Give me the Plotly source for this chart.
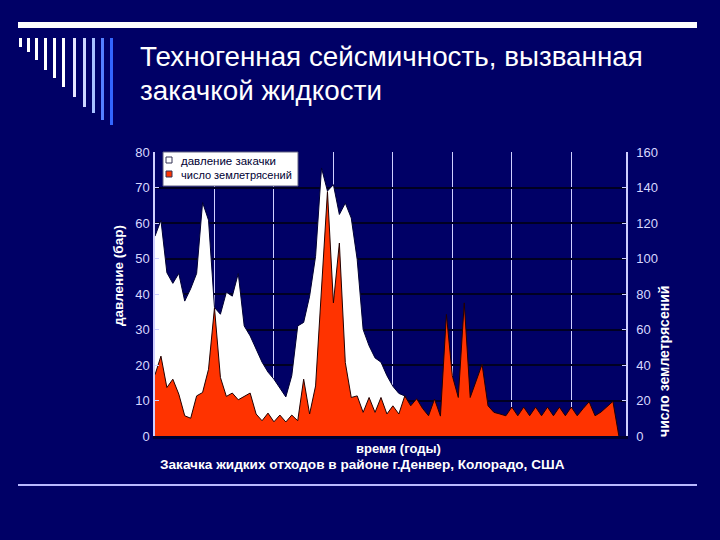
import plotly.graph_objects as go

# ---------------- data ----------------
months_pressure = list(range(0, 44))
pressure_bar = [56.3, 60.8, 46.0, 43.0, 45.8, 38.0, 41.5, 45.8, 65.8, 60.8,
                36.2, 34.3, 40.5, 39.4, 45.8, 31.0, 28.2, 24.5, 20.8, 18.0,
                16.0, 13.5, 11.0, 17.0, 31.0, 32.0, 39.4, 50.6, 75.5, 69.0,
                70.8, 62.4, 65.6, 61.4, 49.7, 30.0, 25.4, 22.0, 20.8, 17.0,
                14.0, 12.0, 11.3, 0.0]

months_quakes = list(range(0, 79))
quakes = [34.5, 45.0, 27.3, 32.0, 23.6, 11.4, 10.0, 22.6, 24.5, 37.6,
          72.2, 33.0, 22.3, 24.2, 20.4, 22.3, 24.2, 12.4, 8.6, 12.9,
          8.0, 11.8, 7.9, 11.8, 8.6, 32.0, 12.4, 28.2, 80.0, 137.7,
          75.0, 108.7, 41.4, 21.7, 22.6, 13.3, 21.7, 13.3, 21.7, 12.4,
          17.0, 12.4, 22.6, 17.0, 21.0, 15.5, 11.4, 20.8, 11.2, 68.5,
          33.9, 21.7, 75.0, 21.7, 31.0, 40.4, 17.0, 13.3, 12.4, 11.4,
          16.3, 11.4, 16.3, 11.4, 16.3, 11.4, 16.3, 11.4, 16.3, 11.4,
          16.3, 11.4, 15.5, 19.3, 11.4, 13.5, 16.5, 19.5, 0.0]

left_ticks = [0, 10, 20, 30, 40, 50, 60, 70, 80]
right_ticks = [0, 20, 40, 60, 80, 100, 120, 140, 160]
x_grid = [10, 20, 30, 40, 50, 60, 70]

name_pressure = "давление закачки"
name_quakes = "число землетрясений"
title_line1 = "Техногенная сейсмичность, вызванная"
title_line2 = "закачкой жидкости"
ytitle_left = "давление (бар)"
ytitle_right = "число землетрясений"
xtitle = "время (годы)"
caption = "Закачка жидких отходов в районе г.Денвер, Колорадо, США"

# ---------------- layout geometry ----------------
W, H = 720, 540
L, R, T, B = 155, 94, 152, 104
PW, PH = W - L - R, H - T - B
BG = "#000066"
LIGHT = "#cfcfff"
FONT = "Liberation Sans, Arial, sans-serif"


def px(x):
    return (x - L) / PW


def py(y):
    return (H - B - y) / PH


fig = go.Figure()
fig.add_trace(go.Scatter(
    x=months_pressure, y=pressure_bar, name=name_pressure,
    mode="lines", fill="tozeroy", fillcolor="#ffffff",
    line=dict(color="#000033", width=1), yaxis="y", showlegend=False,
    hoverinfo="skip"))
fig.add_trace(go.Scatter(
    x=months_quakes, y=quakes, name=name_quakes,
    mode="lines", fill="tozeroy", fillcolor="#ff3300",
    line=dict(color="#220000", width=1), yaxis="y2", showlegend=False,
    hoverinfo="skip"))

shapes = []
annotations = []

# top white line
shapes.append(dict(type="rect", xref="paper", yref="paper",
                   x0=px(18), x1=px(697), y0=py(22), y1=py(28),
                   fillcolor="#ffffff", line=dict(width=0)))
# bottom line
shapes.append(dict(type="line", xref="paper", yref="paper",
                   x0=px(18), x1=px(697), y0=py(485), y1=py(485),
                   line=dict(color="#b8b8ff", width=2)))
# decorative bars
bar_x = [19, 27, 35, 44, 53, 62, 73, 83, 92, 101, 110]
bar_bottom = [47, 52, 60, 70, 78, 87, 97, 107, 113, 120, 125]
bar_col = ["#ffffff", "#ffffff", "#ffffff", "#ffffff", "#ffffff", "#ffffff",
           "#e6e6ff", "#ccd6ff", "#a8c0ff", "#5580ff", "#3366ff"]
for bx, bb, bc in zip(bar_x, bar_bottom, bar_col):
    shapes.append(dict(type="rect", xref="paper", yref="paper",
                       x0=px(bx), x1=px(bx + 3), y0=py(38), y1=py(bb),
                       fillcolor=bc, line=dict(width=0)))

# manual legend
shapes.append(dict(type="rect", xref="paper", yref="paper",
                   x0=px(163), x1=px(298), y0=py(152), y1=py(186),
                   fillcolor="#ffffff", line=dict(color="#606080", width=1)))
shapes.append(dict(type="rect", xref="paper", yref="paper",
                   x0=px(166), x1=px(172), y0=py(157), y1=py(163),
                   fillcolor="#ffffff", line=dict(color="#333355", width=1)))
shapes.append(dict(type="rect", xref="paper", yref="paper",
                   x0=px(166), x1=px(172), y0=py(171), y1=py(177),
                   fillcolor="#ff3300", line=dict(color="#333355", width=1)))
annotations.append(dict(x=px(179), y=py(160.5), xref="paper", yref="paper",
                        text=name_pressure, showarrow=False, xanchor="left",
                        yanchor="middle",
                        font=dict(family=FONT, size=11.5, color="#000033")))
annotations.append(dict(x=px(179), y=py(174.5), xref="paper", yref="paper",
                        text=name_quakes, showarrow=False, xanchor="left",
                        yanchor="middle",
                        font=dict(family=FONT, size=11, color="#000033")))

# title
annotations.append(dict(x=px(138), y=py(57), xref="paper", yref="paper",
                        text=title_line1, showarrow=False, xanchor="left",
                        yanchor="middle",
                        font=dict(family=FONT, size=27.8, color="#ffffff")))
annotations.append(dict(x=px(138), y=py(91), xref="paper", yref="paper",
                        text=title_line2, showarrow=False, xanchor="left",
                        yanchor="middle",
                        font=dict(family=FONT, size=27.8, color="#ffffff")))
# axis titles
annotations.append(dict(x=px(118), y=py(276), xref="paper", yref="paper",
                        text="<b>" + ytitle_left + "</b>", showarrow=False,
                        textangle=-90, xanchor="center", yanchor="middle",
                        font=dict(family=FONT, size=13.5, color="#ffffff")))
annotations.append(dict(x=px(664), y=py(362), xref="paper", yref="paper",
                        text="<b>" + ytitle_right + "</b>", showarrow=False,
                        textangle=-90, xanchor="center", yanchor="middle",
                        font=dict(family=FONT, size=14, color="#ffffff")))
annotations.append(dict(x=px(398), y=py(448), xref="paper", yref="paper",
                        text="<b>" + xtitle + "</b>", showarrow=False,
                        xanchor="center", yanchor="middle", borderpad=0,
                        font=dict(family=FONT, size=13, color="#ffffff")))
annotations.append(dict(x=px(159), y=py(464.5), xref="paper", yref="paper",
                        text="<b>" + caption + "</b>", showarrow=False,
                        xanchor="left", yanchor="middle", borderpad=0,
                        font=dict(family=FONT, size=13.6, color="#ffffff")))

fig.update_layout(
    width=W, height=H,
    margin=dict(l=L, r=R, t=T, b=B, pad=0),
    paper_bgcolor=BG, plot_bgcolor=BG,
    showlegend=False,
    xaxis=dict(range=[0, 79.2], tickvals=x_grid, showticklabels=False,
               showgrid=True, gridcolor=LIGHT, gridwidth=1.2,
               zeroline=False, showline=True, linecolor="#000030",
               linewidth=3, ticks="", fixedrange=True),
    yaxis=dict(range=[0, 80], tickvals=left_ticks, showgrid=True,
               gridcolor="#000022", gridwidth=2, zeroline=False,
               showline=True, linecolor=LIGHT, linewidth=1.5,
               ticks="inside", ticklen=4, tickcolor=LIGHT,
               ticklabelstandoff=1,
               tickfont=dict(family=FONT, size=13, color="#d8d8ff")),
    yaxis2=dict(range=[0, 160], tickvals=right_ticks, overlaying="y",
                side="right", showgrid=False, zeroline=False,
                showline=True, linecolor=LIGHT, linewidth=1.5,
                ticks="inside", ticklen=4, tickcolor=LIGHT,
                ticklabelstandoff=6,
                tickfont=dict(family=FONT, size=13, color="#d8d8ff")),
    shapes=shapes,
    annotations=annotations,
)

fig.write_html("out.html")
